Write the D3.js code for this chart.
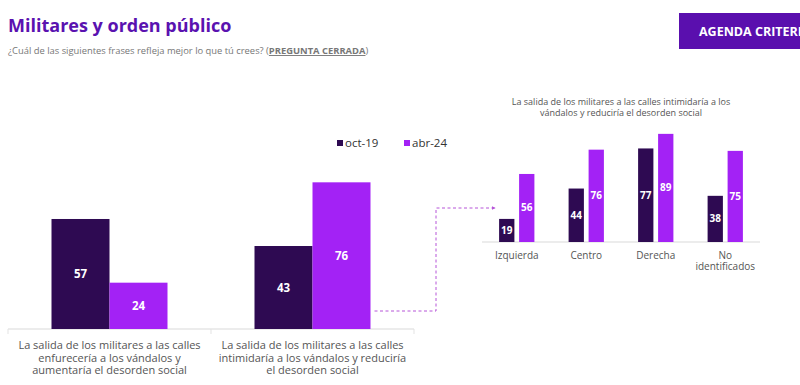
<!DOCTYPE html>
<html>
<head>
<meta charset="utf-8">
<script src="https://cdn.jsdelivr.net/npm/d3@7"></script>
<style>
  body { margin: 0; background: #fff; }
  svg { display: block; font-family: "Open Sans", sans-serif; }
</style>
</head>
<body>
<div class="chart"></div>
<script>
var series = ["oct-19", "abr-24"];
var colors = ["#2e0a52", "#a322f5"];

var mainCats = [
  ["La salida de los militares a las calles", "enfurecería a los vándalos y", "aumentaría el desorden social"],
  ["La salida de los militares a las calles", "intimidaría a los vándalos y  reduciría", "el desorden social"]
];
var mainOct = [57, 43];
var mainAbr = [24, 76];

var subTitle = ["La salida de los militares a las calles intimidaría a los", "vándalos y reduciría el desorden social"];
var subCats = [["Izquierda"], ["Centro"], ["Derecha"], ["No", "identificados"]];
var subOct = [19, 44, 77, 38];
var subAbr = [56, 76, 89, 75];

function init() {
  var w = 800;
  var h = 385;

  var svg = d3.select(".chart")
    .append("svg")
    .attr("width", w)
    .attr("height", h);

  // header
  svg.append("text")
    .attr("x", 8)
    .attr("y", 32)
    .attr("font-size", "18px")
    .attr("font-weight", "bold")
    .attr("fill", "#5a12b0")
    .text("Militares y orden público");

  var sub = svg.append("text")
    .attr("x", 8)
    .attr("y", 54)
    .attr("font-size", "9.4px")
    .attr("fill", "#777");
  sub.append("tspan").text("¿Cuál de las siguientes frases refleja mejor lo que tú crees? ");
  sub.append("tspan").text("(");
  sub.append("tspan")
    .attr("font-weight", "bold")
    .attr("text-decoration", "underline")
    .text("PREGUNTA CERRADA");
  sub.append("tspan").text(")");

  svg.append("rect")
    .attr("x", 679)
    .attr("y", 13)
    .attr("width", 125)
    .attr("height", 36)
    .attr("fill", "#5a0fae");

  // the button label runs off the right edge, as in the source slide
  svg.append("text")
    .attr("x", 699)
    .attr("y", 35.5)
    .attr("font-size", "12.5px")
    .attr("font-weight", "bold")
    .attr("fill", "#fff")
    .text("AGENDA CRITERIA");

  // main chart
  var mainData = mainCats.map(function(c, i) {
    return { idx: i, lines: c, values: [mainOct[i], mainAbr[i]] };
  });

  var x0 = d3.scaleBand()
    .domain(d3.range(mainCats.length))
    .range([8, 414]);

  var groupW = 116;
  var x1 = d3.scaleBand()
    .domain(series)
    .range([0, groupW]);

  var y = d3.scaleLinear()
    .domain([0, 100])
    .range([329, 136]);

  var mainG = svg.append("g");

  mainG.append("line")
    .attr("x1", x0.range()[0])
    .attr("x2", x0.range()[1])
    .attr("y1", y(0))
    .attr("y2", y(0))
    .attr("stroke", "#d9d9d9");

  mainG.selectAll(".tick")
    .data(d3.range(mainCats.length + 1))
    .enter()
    .append("line")
    .attr("x1", function(d) { return x0.range()[0] + d * x0.step(); })
    .attr("x2", function(d) { return x0.range()[0] + d * x0.step(); })
    .attr("y1", y(0))
    .attr("y2", y(0) + 5)
    .attr("stroke", "#e3e3e3");

  var groups = mainG.selectAll(".group")
    .data(mainData)
    .enter()
    .append("g")
    .attr("transform", function(d) {
      return "translate(" + (x0(d.idx) + (x0.bandwidth() - groupW) / 2) + ",0)";
    });

  groups.selectAll("rect")
    .data(function(d) { return d.values; })
    .enter()
    .append("rect")
    .attr("x", function(d, i) { return x1(series[i]); })
    .attr("y", function(d) { return y(d); })
    .attr("width", x1.bandwidth())
    .attr("height", function(d) { return y(0) - y(d); })
    .attr("fill", function(d, i) { return colors[i]; });

  groups.selectAll(".val")
    .data(function(d) { return d.values; })
    .enter()
    .append("text")
    .attr("x", function(d, i) { return x1(series[i]) + x1.bandwidth() / 2; })
    .attr("y", function(d) { return (y(d) + y(0)) / 2; })
    .attr("dy", "0.35em")
    .attr("text-anchor", "middle")
    .attr("font-size", "11.5px")
    .attr("font-weight", "bold")
    .attr("fill", "#fff")
    .text(function(d) { return d; });

  mainData.forEach(function(d) {
    mainG.selectAll(".cat" + d.idx)
      .data(d.lines)
      .enter()
      .append("text")
      .attr("x", x0(d.idx) + x0.bandwidth() / 2)
      .attr("y", function(line, j) { return 349 + j * 12.5; })
      .attr("text-anchor", "middle")
      .attr("font-size", "11px")
      .attr("fill", "#555")
      .text(function(line) { return line; });
  });

  // legend
  var legend = svg.append("g")
    .attr("transform", "translate(337,143)");

  var legendItem = legend.selectAll(".legend-item")
    .data(series)
    .enter()
    .append("g")
    .attr("transform", function(d, i) {
      return "translate(" + (i * 67) + ",0)";
    });

  legendItem.append("rect")
    .attr("x", 0)
    .attr("y", -3)
    .attr("width", 6)
    .attr("height", 6)
    .attr("fill", function(d, i) { return colors[i]; });

  legendItem.append("text")
    .attr("x", 8)
    .attr("y", 0)
    .attr("dy", "0.35em")
    .attr("font-size", "11.5px")
    .attr("fill", "#333")
    .text(function(d) { return d; });

  // breakdown chart
  var subData = subCats.map(function(c, i) {
    return { idx: i, lines: c, values: [subOct[i], subAbr[i]] };
  });

  var sx0 = d3.scaleBand()
    .domain(d3.range(subCats.length))
    .range([482, 760]);

  var subGroupW = 35.3;
  var sx1 = d3.scaleBand()
    .domain(series)
    .range([0, subGroupW])
    .paddingInner(0.235);

  var sy = d3.scaleLinear()
    .domain([0, 100])
    .range([242, 120.5]);

  var subG = svg.append("g");

  subG.selectAll(".stitle")
    .data(subTitle)
    .enter()
    .append("text")
    .attr("x", 621)
    .attr("y", function(d, i) { return 105 + i * 11; })
    .attr("text-anchor", "middle")
    .attr("font-size", "9px")
    .attr("fill", "#555")
    .text(function(d) { return d; });

  subG.append("line")
    .attr("x1", sx0.range()[0])
    .attr("x2", sx0.range()[1])
    .attr("y1", sy(0))
    .attr("y2", sy(0))
    .attr("stroke", "#d9d9d9");

  var sgroups = subG.selectAll(".sgroup")
    .data(subData)
    .enter()
    .append("g")
    .attr("transform", function(d) {
      return "translate(" + (sx0(d.idx) + (sx0.bandwidth() - subGroupW) / 2) + ",0)";
    });

  sgroups.selectAll("rect")
    .data(function(d) { return d.values; })
    .enter()
    .append("rect")
    .attr("x", function(d, i) { return sx1(series[i]); })
    .attr("y", function(d) { return sy(d); })
    .attr("width", sx1.bandwidth())
    .attr("height", function(d) { return sy(0) - sy(d); })
    .attr("fill", function(d, i) { return colors[i]; });

  sgroups.selectAll(".val")
    .data(function(d) { return d.values; })
    .enter()
    .append("text")
    .attr("x", function(d, i) { return sx1(series[i]) + sx1.bandwidth() / 2; })
    .attr("y", function(d) { return (sy(d) + sy(0)) / 2; })
    .attr("dy", "0.35em")
    .attr("text-anchor", "middle")
    .attr("font-size", "10px")
    .attr("font-weight", "bold")
    .attr("fill", "#fff")
    .text(function(d) { return d; });

  subData.forEach(function(d) {
    subG.selectAll(".scat" + d.idx)
      .data(d.lines)
      .enter()
      .append("text")
      .attr("x", sx0(d.idx) + sx0.bandwidth() / 2)
      .attr("y", function(line, j) { return 258.5 + j * 11.5; })
      .attr("text-anchor", "middle")
      .attr("font-size", "10px")
      .attr("fill", "#555")
      .text(function(line) { return line; });
  });

  // dashed connector from the second main bar to the breakdown
  svg.append("defs")
    .append("marker")
    .attr("id", "arrow")
    .attr("viewBox", "0 0 6 6")
    .attr("refX", 5)
    .attr("refY", 3)
    .attr("markerWidth", 4)
    .attr("markerHeight", 4)
    .attr("orient", "auto")
    .append("path")
    .attr("d", "M0,0 L6,3 L0,6 Z")
    .attr("fill", "#b655d8");

  var connX0 = x0(1) + (x0.bandwidth() - groupW) / 2 + groupW + 4;
  var connY0 = 311;
  var connMidX = 436;
  var connY1 = 208;
  var connX1 = sx0(0) + 13;

  svg.append("path")
    .attr("d", "M" + connX0 + "," + connY0 + " H" + connMidX + " V" + connY1 + " H" + connX1)
    .attr("fill", "none")
    .attr("stroke", "#b655d8")
    .attr("stroke-width", 1)
    .attr("stroke-dasharray", "3,2.5")
    .attr("marker-end", "url(#arrow)");
}

window.onload = init;
</script>
</body>
</html>
